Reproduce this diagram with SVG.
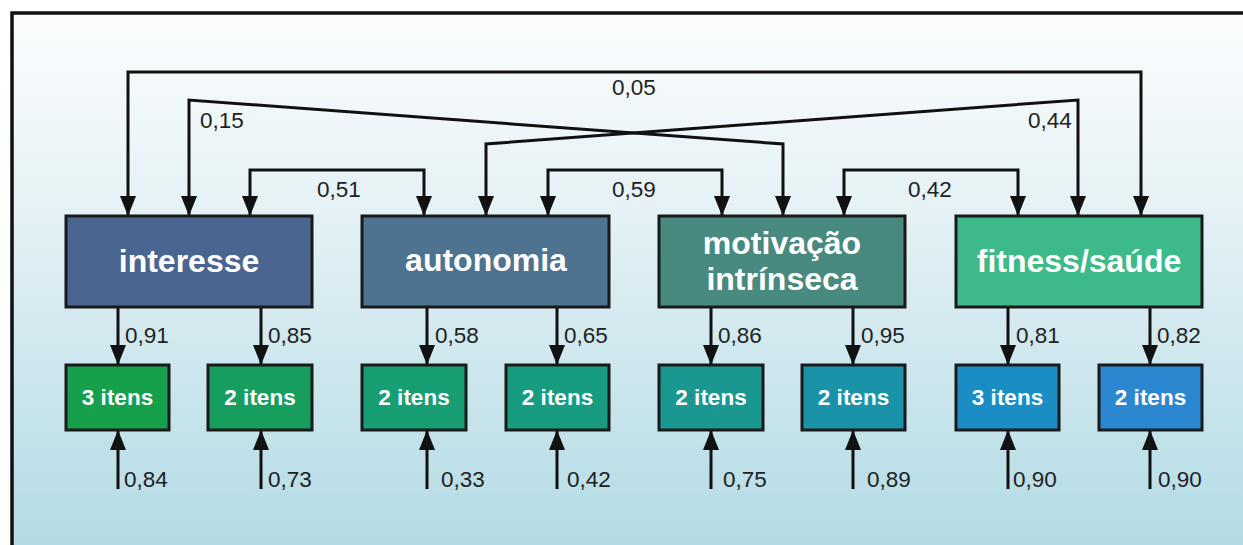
<svg xmlns="http://www.w3.org/2000/svg" width="1243" height="545" viewBox="0 0 1243 545">
<defs>
<linearGradient id="bg" x1="0" y1="0" x2="0" y2="1">
<stop offset="0" stop-color="#fbfdfe"/>
<stop offset="0.35" stop-color="#e6f2f6"/>
<stop offset="1" stop-color="#b3dbe5"/>
</linearGradient>
<marker id="ah" viewBox="0 0 20 16" markerWidth="20" markerHeight="16" refX="20" refY="8" orient="auto-start-reverse" markerUnits="userSpaceOnUse">
<path d="M0,0 L20,8 L0,16 z" fill="#111"/>
</marker>
<style>
.cn{fill:none;stroke:#111;stroke-width:3;marker-end:url(#ah)}
.bi{fill:none;stroke:#111;stroke-width:3;marker-start:url(#ah);marker-end:url(#ah)}
.big{stroke:#1a1a1a;stroke-width:3}
.sm{stroke:#1a1a1a;stroke-width:3}
.lb{font-family:"Liberation Sans",Arial,sans-serif;font-size:22.5px;fill:#222}
.bt{font-family:"Liberation Sans",Arial,sans-serif;font-size:32px;font-weight:bold;fill:#fff;text-anchor:middle}
.st{font-family:"Liberation Sans",Arial,sans-serif;font-size:22.5px;font-weight:bold;fill:#fff;text-anchor:middle}
</style>
</defs>
<rect x="0" y="0" width="1243" height="545" fill="#fff"/>
<rect x="12" y="13" width="1231" height="532" fill="url(#bg)"/>
<path d="M12,545 V13 H1243" fill="none" stroke="#111" stroke-width="3.5"/>

<g id="connectors">
<path class="bi" d="M128,216 V72 H1141 V216"/>
<path class="bi" d="M189,216 V100 L783,144 V216"/>
<path class="bi" d="M1078,216 V100 L486,144 V216"/>
<path class="bi" d="M250,216 V170 H424 V216"/>
<path class="bi" d="M548,216 V170 H722 V216"/>
<path class="bi" d="M844,216 V170 H1018 V216"/>
<path class="cn" d="M118,307 V365"/>
<path class="cn" d="M261,307 V365"/>
<path class="cn" d="M427,307 V365"/>
<path class="cn" d="M557,307 V365"/>
<path class="cn" d="M711,307 V365"/>
<path class="cn" d="M853,307 V365"/>
<path class="cn" d="M1008,307 V365"/>
<path class="cn" d="M1150,307 V365"/>
<path class="cn" d="M118,489 V430"/>
<path class="cn" d="M261,489 V430"/>
<path class="cn" d="M427,489 V430"/>
<path class="cn" d="M557,489 V430"/>
<path class="cn" d="M711,489 V430"/>
<path class="cn" d="M853,489 V430"/>
<path class="cn" d="M1008,489 V430"/>
<path class="cn" d="M1150,489 V430"/>
<text class="lb" x="612" y="95">0,05</text>
<text class="lb" x="200" y="128">0,15</text>
<text class="lb" x="1028" y="128">0,44</text>
<text class="lb" x="317" y="197">0,51</text>
<text class="lb" x="612" y="197">0,59</text>
<text class="lb" x="908" y="197">0,42</text>
<text class="lb" x="125" y="343">0,91</text>
<text class="lb" x="268" y="343">0,85</text>
<text class="lb" x="435" y="343">0,58</text>
<text class="lb" x="564" y="343">0,65</text>
<text class="lb" x="718" y="343">0,86</text>
<text class="lb" x="861" y="343">0,95</text>
<text class="lb" x="1016" y="343">0,81</text>
<text class="lb" x="1157" y="343">0,82</text>
<text class="lb" x="124" y="487">0,84</text>
<text class="lb" x="268" y="487">0,73</text>
<text class="lb" x="441" y="487">0,33</text>
<text class="lb" x="567" y="487">0,42</text>
<text class="lb" x="723" y="487">0,75</text>
<text class="lb" x="867" y="487">0,89</text>
<text class="lb" x="1013" y="487">0,90</text>
<text class="lb" x="1158" y="487">0,90</text>
</g>

<g id="interesse">
<rect class="big" x="66" y="216" width="246" height="91" fill="#4a6590"/>
<text class="bt" x="189" y="272">interesse</text>
</g>
<g id="autonomia">
<rect class="big" x="362" y="216" width="247" height="91" fill="#4d7390"/>
<text class="bt" x="486" y="271">autonomia</text>
</g>
<g id="motivacao">
<rect class="big" x="659" y="216" width="246" height="91" fill="#498a80"/>
<text class="bt" x="782" y="254">motivação</text>
<text class="bt" x="782" y="290">intrínseca</text>
</g>
<g id="fitness">
<rect class="big" x="956" y="216" width="246" height="91" fill="#3dba8a"/>
<text class="bt" x="1079" y="272">fitness/saúde</text>
</g>

<g id="i1"><rect class="sm" x="66" y="365" width="103" height="65" fill="#17a04c"/><text class="st" x="117.5" y="405">3 itens</text></g>
<g id="i2"><rect class="sm" x="208" y="365" width="104" height="65" fill="#179e5e"/><text class="st" x="260" y="405">2 itens</text></g>
<g id="i3"><rect class="sm" x="362" y="365" width="104" height="65" fill="#179e72"/><text class="st" x="414" y="405">2 itens</text></g>
<g id="i4"><rect class="sm" x="506" y="365" width="103" height="65" fill="#189c80"/><text class="st" x="557.5" y="405">2 itens</text></g>
<g id="i5"><rect class="sm" x="659" y="365" width="104" height="65" fill="#1a9790"/><text class="st" x="711" y="405">2 itens</text></g>
<g id="i6"><rect class="sm" x="802" y="365" width="103" height="65" fill="#1a93a8"/><text class="st" x="853.5" y="405">2 itens</text></g>
<g id="i7"><rect class="sm" x="956" y="365" width="103" height="65" fill="#1a8ec4"/><text class="st" x="1007.5" y="405">3 itens</text></g>
<g id="i8"><rect class="sm" x="1099" y="365" width="103" height="65" fill="#2b88d0"/><text class="st" x="1150.5" y="405">2 itens</text></g>
</svg>
